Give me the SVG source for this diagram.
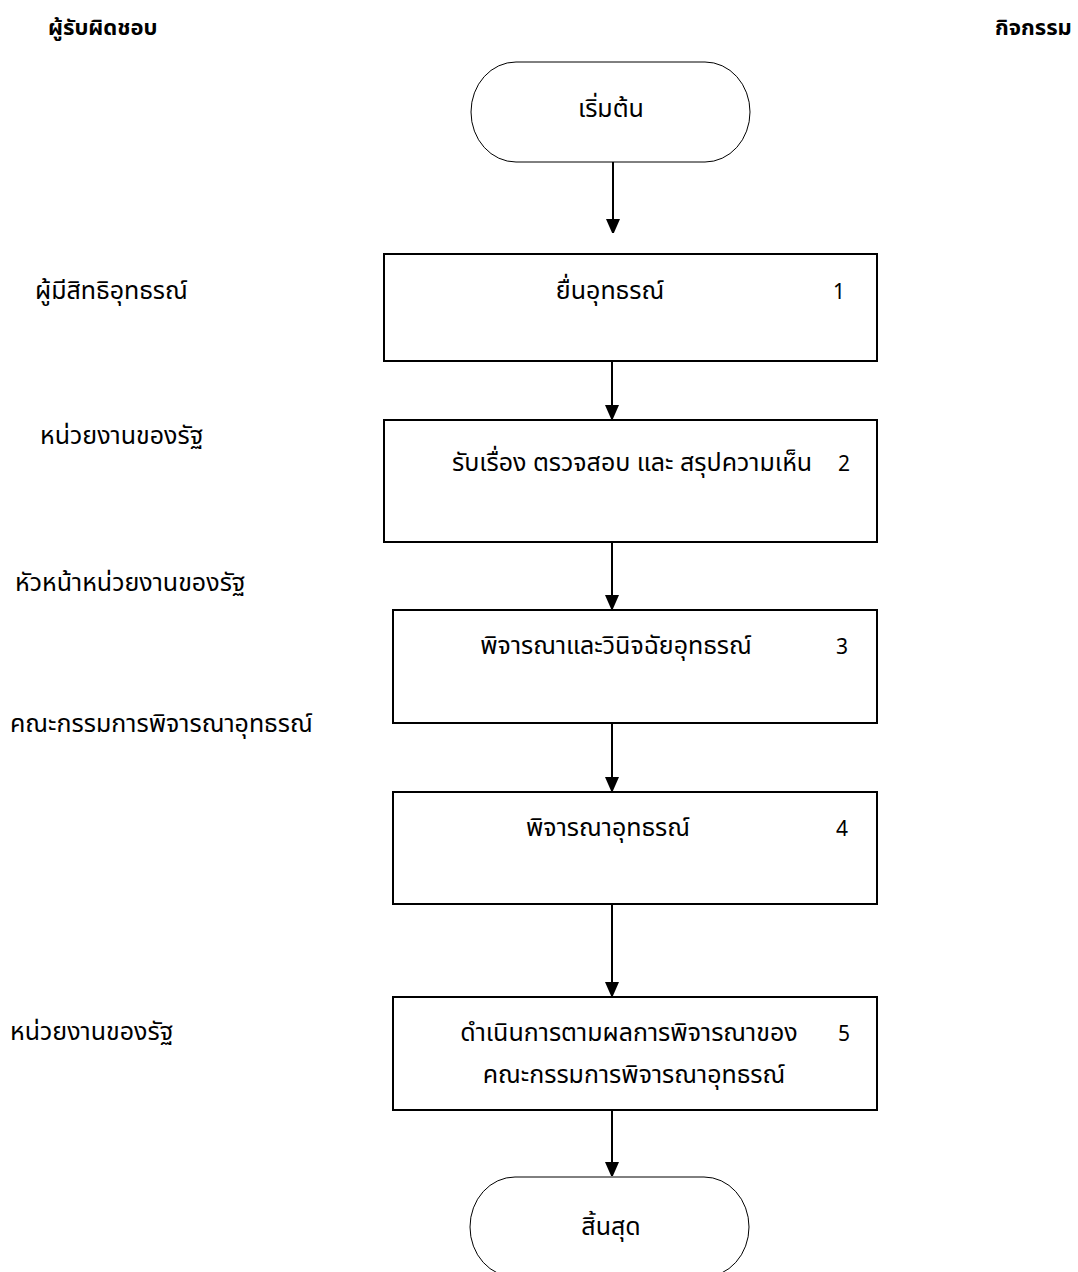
<svg xmlns="http://www.w3.org/2000/svg" width="1078" height="1272" viewBox="0 0 1078 1272">
<style>
text{font-family:"Noto Sans Thai","Leelawadee UI","Tahoma","Noto Sans",sans-serif;font-size:25px;fill:#000}
.hd{font-weight:bold;font-size:22px}
.num{font-size:21px}
.box{fill:#fff;stroke:#000;stroke-width:2}
.term{fill:#fff;stroke:#000;stroke-width:1}
.c{text-anchor:middle}
.con{stroke:#000;stroke-width:2;fill:none;marker-end:url(#ah)}
</style>
<defs>
<marker id="ah" viewBox="0 0 14 16" refX="14" refY="7" markerWidth="14" markerHeight="16" markerUnits="userSpaceOnUse" orient="auto">
<path d="M0,0 L16,7 L0,14 Z" fill="#000"/>
</marker>
</defs>
<g id="headers">
<text class="hd" x="48" y="35">ผู้รับผิดชอบ</text>
<text class="hd" x="995" y="35">กิจกรรม</text>
</g>
<g id="lanes">
<text x="35" y="299">ผู้มีสิทธิอุทธรณ์</text>
<text x="40" y="444">หน่วยงานของรัฐ</text>
<text x="15" y="591">หัวหน้าหน่วยงานของรัฐ</text>
<text x="10" y="732">คณะกรรมการพิจารณาอุทธรณ์</text>
<text x="10" y="1040">หน่วยงานของรัฐ</text>
</g>
<g id="start">
<rect class="term" x="471" y="62" width="279" height="100" rx="45" ry="50"/>
<text class="c" x="611" y="117">เริ่มต้น</text>
</g>
<g id="step1">
<rect class="box" x="384" y="254" width="493" height="107"/>
<text class="c" x="610" y="299">ยื่นอุทธรณ์</text>
<text class="num" x="833" y="299">1</text>
</g>
<g id="step2">
<rect class="box" x="384" y="420" width="493" height="122"/>
<text x="452" y="471">รับเรื่อง ตรวจสอบ และ สรุปความเห็น</text>
<text class="num" x="838" y="471">2</text>
</g>
<g id="step3">
<rect class="box" x="393" y="610" width="484" height="113"/>
<text class="c" x="616" y="654">พิจารณาและวินิจฉัยอุทธรณ์</text>
<text class="num" x="836" y="654">3</text>
</g>
<g id="step4">
<rect class="box" x="393" y="792" width="484" height="112"/>
<text class="c" x="608" y="836">พิจารณาอุทธรณ์</text>
<text class="num" x="836" y="836">4</text>
</g>
<g id="step5">
<rect class="box" x="393" y="997" width="484" height="113"/>
<text class="c" x="629" y="1041">ดำเนินการตามผลการพิจารณาของ</text>
<text class="num" x="838" y="1041">5</text>
<text class="c" x="634" y="1083">คณะกรรมการพิจารณาอุทธรณ์</text>
</g>
<g id="end">
<rect class="term" x="470" y="1177" width="279" height="100" rx="45" ry="50"/>
<text class="c" x="611" y="1235">สิ้นสุด</text>
</g>
<g id="connectors">
<line class="con" x1="613" y1="162" x2="613" y2="233"/>
<line class="con" x1="612" y1="361" x2="612" y2="419"/>
<line class="con" x1="612" y1="542" x2="612" y2="609"/>
<line class="con" x1="612" y1="723" x2="612" y2="791"/>
<line class="con" x1="612" y1="904" x2="612" y2="996"/>
<line class="con" x1="612" y1="1110" x2="612" y2="1176"/>
</g>
</svg>
